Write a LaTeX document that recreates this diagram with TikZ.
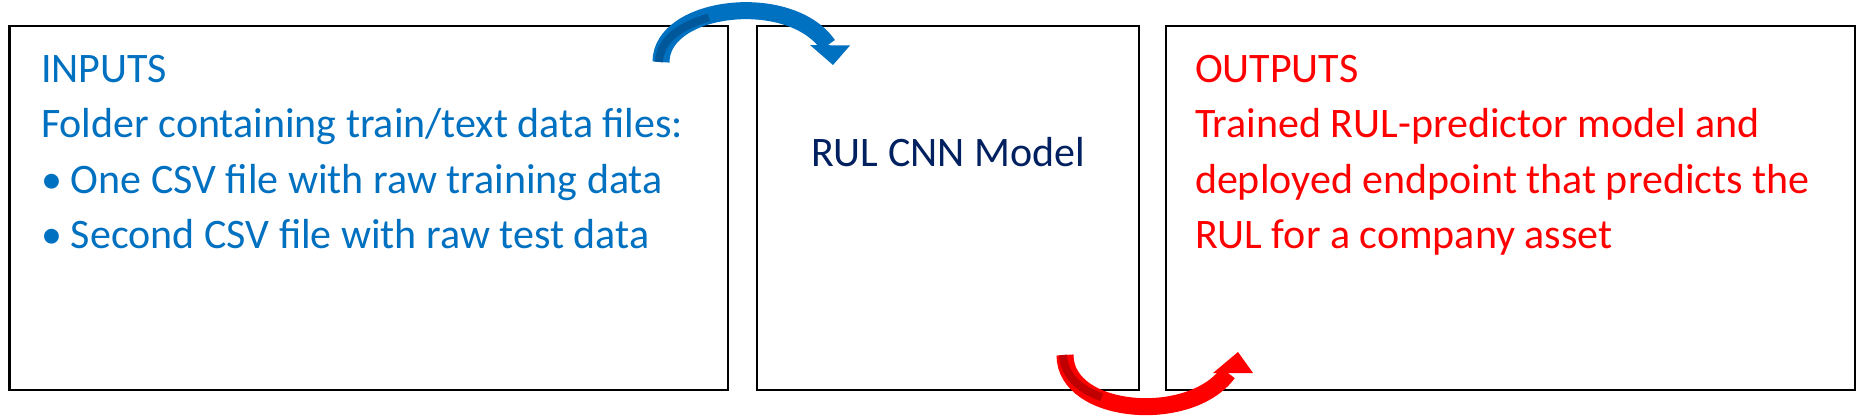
\documentclass[tikz,border=0pt]{standalone}
\usepackage{fontspec}
\setmainfont{Carlito}
\definecolor{inblue}{HTML}{0070C0}
\definecolor{inbluedark}{HTML}{00589A}
\definecolor{navy}{HTML}{002060}
\definecolor{outred}{HTML}{FF0000}
\definecolor{outreddark}{HTML}{C00000}
\begin{document}
\begin{tikzpicture}[x=0.5pt,y=-0.5pt,
  box/.style={draw=black,line width=1.1pt,rectangle,inner sep=0pt,outer sep=0pt,anchor=north west,minimum height=182pt},
  txt/.style={inner sep=0pt,outer sep=0pt,align=left,anchor=north west,font=\fontsize{21}{27.7}\selectfont},
  shaft/.style={line width=8.5pt,line cap=butt},
  band/.style={line width=4pt,line cap=butt}]
\useasboundingbox[fill=white] (0,0) rectangle (1865,417);
% boxes
\node[box,minimum width=359.25pt] (inbox) at (9.5,26) {};
\node[box,minimum width=191pt] (modelbox) at (757,26) {};
\node[box,minimum width=344.5pt] (outbox) at (1166,26) {};
% texts
\node[txt,text=inblue] (intext) at (41,55) {INPUTS\\
Folder containing train/text data files:\\
\makebox[15pt][l]{\textbullet}One CSV file with raw training data\\
\makebox[15pt][l]{\textbullet}Second CSV file with raw test data};
\node[inner sep=0pt,anchor=base,text=navy,font=\fontsize{21}{27.7}\selectfont] (model) at (948,166.7) {RUL CNN Model};
\node[txt,text=outred] (outtext) at (1195,55) {OUTPUTS\\
Trained RUL-predictor model and\\
deployed endpoint that predicts the\\
RUL for a company asset};
% blue curved arrow (inputs -> model)
\coordinate (bs) at (661,62);
\coordinate (be) at (828,45);
\coordinate (bhl) at (810,45);
\coordinate (bhr) at (850,45.5);
\coordinate (bht) at (833,65);
\draw[shaft,inblue] (bs) .. controls (661,5) and (790,-10) .. (be);
\draw[band,inbluedark] ([xshift=-1]bs) .. controls (660,39.2) and (681.6,25.1) .. (708.8,17.6);
\fill[inblue] (bhl) -- (bhr) -- (bht) -- cycle;
% red curved arrow (model -> outputs)
\coordinate (rs) at (1065,355);
\coordinate (re) at (1228,373);
\coordinate (rhl) at (1213,373);
\coordinate (rhr) at (1253,373);
\coordinate (rht) at (1238,352);
\draw[shaft,outred] (rs) .. controls (1065,415) and (1190,425) .. (re);
\draw[band,outreddark] ([xshift=-1]rs) .. controls (1064,376) and (1080.3,389.9) .. (1101.8,397.1);
\fill[outred] (rhl) -- (rhr) -- (rht) -- cycle;
\end{tikzpicture}
\end{document}
